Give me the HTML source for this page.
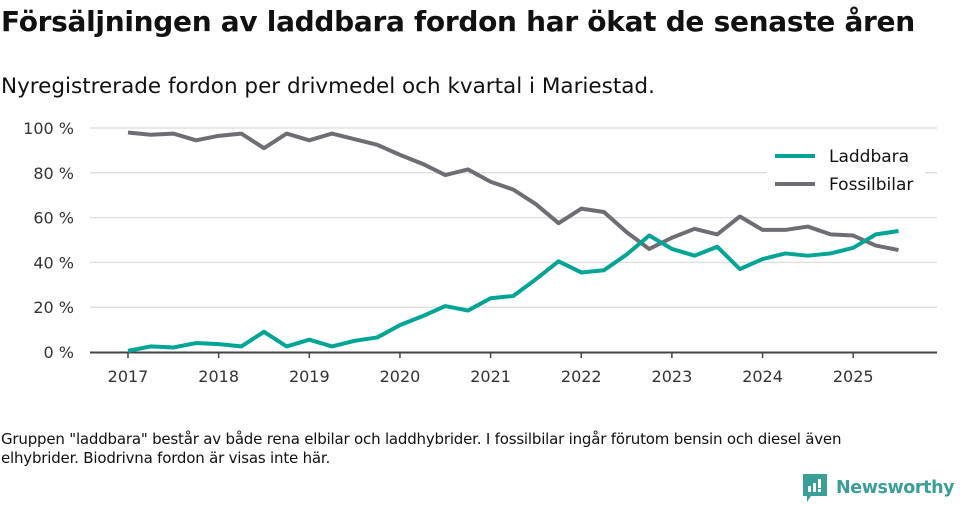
<!DOCTYPE html>
<html><head><meta charset="utf-8"><style>
body{margin:0;width:960px;height:505px;background:#fff;font-family:"DejaVu Sans","Liberation Sans",sans-serif;color:#111;overflow:hidden;position:relative}
#title{position:absolute;left:1px;top:5px;font-size:28px;font-weight:bold;margin:0;letter-spacing:-0.3px}
#sub{position:absolute;left:1px;top:74px;font-size:21.5px}
#note{position:absolute;left:1px;top:430px;font-size:15px;line-height:19px;width:885px;letter-spacing:-0.2px}
#logo{position:absolute;left:803px;top:474px;display:flex;align-items:center;color:#3a9f97;font-size:17.5px;font-weight:bold;letter-spacing:-0.4px}
</style></head><body>
<h1 id="title">Försäljningen av laddbara fordon har ökat de senaste åren</h1>
<div id="sub">Nyregistrerade fordon per drivmedel och kvartal i Mariestad.</div>
<svg id="chart" width="960" height="505" style="position:absolute;left:0;top:0"></svg>
<div id="note">Gruppen "laddbara" består av både rena elbilar och laddhybrider. I fossilbilar ingår förutom bensin och diesel även elhybrider. Biodrivna fordon är visas inte här.</div>
<div id="logo"><svg width="24" height="28" viewBox="0 0 24 28"><path d="M0 0H24V22H8L4 28V22H0Z" fill="#3a9f97"/><rect x="5" y="12" width="3" height="6" fill="#fff"/><rect x="10" y="9" width="3" height="9" fill="#fff"/><rect x="15" y="5" width="3" height="9" fill="#fff"/><rect x="15" y="15" width="3" height="3" fill="#fff"/></svg><span style="margin-left:9px">Newsworthy</span></div>
<script>
const years=["2017","2018","2019","2020","2021","2022","2023","2024","2025"];
const yTicks=[0,20,40,60,80,100];
const laddbara=[0.5,2.5,2,4,3.5,2.5,9,2.5,5.5,2.5,5,6.5,12,16,20.5,18.5,24,25,32.5,40.5,35.5,36.5,43.5,52,46,43,47,37,41.5,44,43,44,46.5,52.5,54];
const fossil=[98,97,97.5,94.5,96.5,97.5,91,97.5,94.5,97.5,95,92.5,88,84,79,81.5,76,72.5,66,57.5,64,62.5,53.5,46,51,55,52.5,60.5,54.5,54.5,56,52.5,52,47.5,45.5];
const NS="http://www.w3.org/2000/svg";
const svg=document.getElementById('chart');
const x0=128,yearW=90.65,left=90,right=937;
const xs=i=>x0+i*yearW/4;
const ys=v=>352-v*2.24;
function mk(t,a){const e=document.createElementNS(NS,t);for(const k in a)e.setAttribute(k,a[k]);svg.appendChild(e);return e;}
yTicks.forEach(v=>{
 if(v>0){const g=mk('line',{x1:left,x2:right,y1:ys(v),y2:ys(v),stroke:'#e0e0e0','stroke-width':1.5});
 
 }
 const t=mk('text',{x:74,y:ys(v)+6,'text-anchor':'end','font-size':16,fill:'#333'});
 t.textContent=v+' %';
 
 
});
const ax=mk('line',{x1:left,x2:right,y1:352.5,y2:352.5,stroke:'#444','stroke-width':2});


years.forEach((y,i)=>{
 const x=xs(i*4);
 mk('line',{x1:x,x2:x,y1:352,y2:358,stroke:'#444','stroke-width':1.5});
 const t=mk('text',{x:x,y:382,'text-anchor':'middle','font-size':16,fill:'#333'});
 t.textContent=y;
 
 
});
function line(arr,col,name){
 const p=mk('polyline',{points:arr.map((v,i)=>xs(i)+','+ys(v)).join(' '),fill:'none',stroke:col,'stroke-width':4,'stroke-linejoin':'round'});
 
 
}
line(fossil,'#6e6d73','line-fossilbilar');
line(laddbara,'#00a596','line-laddbara');
const bg=mk('rect',{x:767,y:140,width:158,height:62,fill:'#fff'});
[['Laddbara','#00a596',156],['Fossilbilar','#6e6d73',184]].forEach(([n,c,y])=>{
 const l=mk('line',{x1:775,x2:815,y1:y,y2:y,stroke:c,'stroke-width':4});
 
 
 const t=mk('text',{x:829,y:y+6,'font-size':17,fill:'#111'});
 t.textContent=n;
 
 
});
</script>
</body></html>
